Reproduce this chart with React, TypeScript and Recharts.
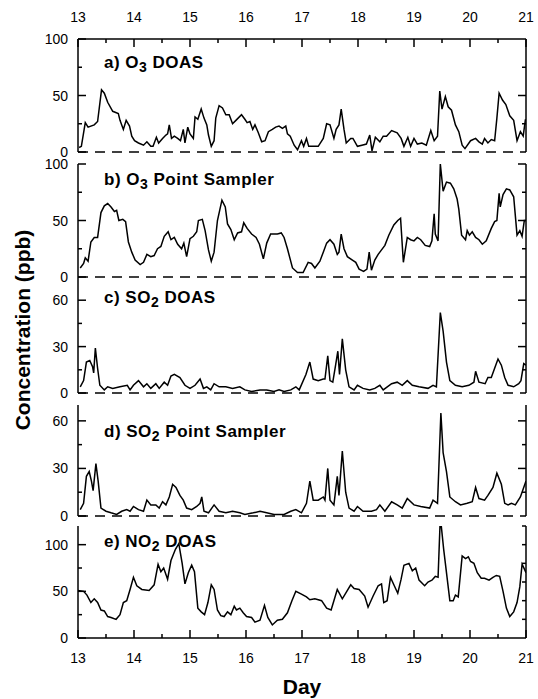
import { LineChart, Line, XAxis, YAxis, ReferenceLine } from 'recharts'

const W = 538
const H = 699
const PLOT_LEFT = 78
const PLOT_RIGHT = 526
const FONT = '"Liberation Sans", Arial, Helvetica, sans-serif'

const DAY_TICKS = [13, 13.5, 14, 14.5, 15, 15.5, 16, 16.5, 17, 17.5, 18, 18.5, 19, 19.5, 20, 20.5, 21]

// a) O3 DOAS
const O3_DOAS_DAY = [13.02, 13.06, 13.13, 13.18, 13.29, 13.35, 13.42, 13.47, 13.53, 13.62, 13.72, 13.75, 13.81, 13.86, 13.92, 13.96, 14.01, 14.08, 14.17, 14.23, 14.3, 14.34, 14.4, 14.44, 14.51, 14.57, 14.6, 14.63, 14.67, 14.72, 14.78, 14.83, 14.88, 14.91, 14.96, 15.0, 15.06, 15.09, 15.14, 15.2, 15.25, 15.3, 15.33, 15.38, 15.43, 15.46, 15.52, 15.58, 15.64, 15.7, 15.76, 15.82, 15.92, 15.98, 16.02, 16.07, 16.12, 16.16, 16.22, 16.28, 16.34, 16.4, 16.47, 16.53, 16.59, 16.65, 16.71, 16.74, 16.79, 16.86, 16.92, 16.99, 17.03, 17.08, 17.12, 17.2, 17.29, 17.38, 17.44, 17.5, 17.57, 17.61, 17.66, 17.7, 17.75, 17.79, 17.87, 17.91, 17.99, 18.07, 18.15, 18.21, 18.25, 18.31, 18.39, 18.45, 18.51, 18.6, 18.7, 18.77, 18.82, 18.89, 18.94, 19.0, 19.06, 19.14, 19.22, 19.3, 19.36, 19.42, 19.46, 19.5, 19.56, 19.61, 19.67, 19.74, 19.8, 19.86, 19.91, 20.01, 20.1, 20.16, 20.22, 20.26, 20.32, 20.38, 20.44, 20.48, 20.52, 20.58, 20.64, 20.71, 20.78, 20.84, 20.9, 20.95, 20.99]
const O3_DOAS_PPB = [4, 5, 26, 22, 24, 27, 55, 52, 44, 36, 34, 28, 20, 28, 23, 14, 10, 8, 6, 9, 5, 5, 13, 8, 12, 15, 16, 24, 12, 14, 12, 10, 20, 8, 22, 16, 12, 31, 29, 38, 30, 24, 15, 5, 10, 30, 41, 39, 33, 33, 25, 28, 33, 29, 26, 27, 20, 24, 17, 9, 10, 18, 20, 22, 23, 21, 23, 16, 14, 6, 2, 10, 5, 12, 5, 5, 5, 12, 25, 24, 12, 20, 24, 38, 20, 8, 12, 12, 5, 6, 7, 15, 1, 13, 9, 14, 14, 19, 17, 12, 5, 13, 5, 12, 7, 8, 6, 19, 10, 14, 54, 38, 49, 40, 37, 24, 18, 6, 3, 10, 12, 9, 7, 12, 8, 11, 10, 30, 52, 46, 42, 32, 28, 10, 18, 14, 29]

// b) O3 Point Sampler
const O3_PS_DAY = [13.04, 13.1, 13.13, 13.18, 13.23, 13.29, 13.35, 13.41, 13.47, 13.53, 13.59, 13.65, 13.69, 13.73, 13.8, 13.85, 13.9, 13.96, 14.02, 14.11, 14.17, 14.23, 14.3, 14.36, 14.42, 14.48, 14.54, 14.61, 14.66, 14.72, 14.78, 14.85, 14.89, 14.94, 15.0, 15.06, 15.12, 15.15, 15.22, 15.27, 15.33, 15.38, 15.43, 15.49, 15.57, 15.63, 15.67, 15.73, 15.79, 15.85, 15.92, 15.96, 16.02, 16.1, 16.18, 16.24, 16.31, 16.37, 16.44, 16.5, 16.56, 16.63, 16.68, 16.74, 16.83, 16.92, 17.02, 17.11, 17.17, 17.23, 17.32, 17.38, 17.44, 17.5, 17.57, 17.63, 17.66, 17.7, 17.75, 17.81, 17.9, 17.96, 18.02, 18.1, 18.16, 18.2, 18.24, 18.3, 18.36, 18.42, 18.48, 18.55, 18.64, 18.71, 18.76, 18.81, 18.88, 18.94, 19.0, 19.06, 19.12, 19.2, 19.28, 19.32, 19.36, 19.38, 19.43, 19.47, 19.52, 19.58, 19.65, 19.71, 19.77, 19.8, 19.85, 19.92, 19.95, 19.99, 20.04, 20.1, 20.16, 20.22, 20.29, 20.38, 20.44, 20.48, 20.52, 20.54, 20.59, 20.65, 20.71, 20.78, 20.84, 20.89, 20.93, 20.97, 21.0]
const O3_PS_PPB = [8, 12, 17, 14, 31, 35, 35, 57, 63, 65, 62, 58, 59, 50, 51, 49, 31, 22, 15, 11, 13, 20, 18, 19, 25, 27, 36, 40, 33, 35, 29, 25, 30, 18, 34, 36, 40, 50, 51, 41, 24, 14, 22, 50, 68, 62, 47, 42, 33, 39, 40, 48, 43, 38, 35, 29, 16, 30, 38, 38, 38, 39, 35, 25, 8, 4, 4, 13, 12, 8, 14, 22, 30, 33, 29, 20, 22, 38, 25, 18, 15, 13, 7, 5, 7, 22, 6, 15, 20, 24, 28, 37, 46, 50, 52, 13, 35, 33, 32, 35, 33, 28, 27, 32, 56, 38, 32, 100, 76, 84, 83, 78, 69, 60, 37, 33, 41, 37, 40, 35, 33, 29, 32, 43, 49, 50, 74, 62, 73, 78, 77, 71, 37, 41, 36, 50, 50]

// c) SO2 DOAS
const SO2_DOAS_DAY = [13.04, 13.1, 13.15, 13.21, 13.26, 13.28, 13.31, 13.35, 13.39, 13.47, 13.53, 13.62, 13.75, 13.88, 13.93, 13.99, 14.08, 14.17, 14.23, 14.3, 14.39, 14.45, 14.54, 14.6, 14.66, 14.72, 14.82, 14.91, 15.0, 15.09, 15.18, 15.24, 15.3, 15.37, 15.43, 15.52, 15.64, 15.76, 15.89, 15.98, 16.1, 16.25, 16.37, 16.5, 16.59, 16.68, 16.8, 16.89, 16.95, 17.07, 17.14, 17.2, 17.29, 17.38, 17.41, 17.46, 17.5, 17.55, 17.6, 17.64, 17.67, 17.72, 17.78, 17.84, 17.93, 17.99, 18.09, 18.21, 18.3, 18.39, 18.45, 18.6, 18.7, 18.79, 18.88, 18.97, 19.09, 19.25, 19.34, 19.4, 19.47, 19.52, 19.58, 19.64, 19.74, 19.86, 19.98, 20.07, 20.1, 20.16, 20.27, 20.32, 20.38, 20.44, 20.5, 20.56, 20.62, 20.68, 20.78, 20.87, 20.91, 20.96, 21.0]
const SO2_DOAS_PPB = [4, 8, 20, 21, 17, 13, 29, 16, 5, 2, 4, 3, 4, 5, 2, 5, 8, 4, 6, 3, 6, 3, 7, 5, 11, 12, 10, 5, 3, 5, 9, 3, 4, 2, 6, 4, 4, 3, 4, 2, 1, 2, 2, 1, 2, 1, 2, 4, 2, 12, 20, 9, 8, 9, 9, 24, 8, 7, 18, 27, 12, 35, 15, 4, 2, 5, 3, 2, 3, 5, 2, 6, 7, 5, 8, 5, 4, 3, 5, 4, 52, 40, 20, 8, 5, 4, 5, 7, 14, 7, 6, 10, 10, 16, 22, 18, 10, 5, 4, 6, 8, 19, 18]

// d) SO2 Point Sampler
const SO2_PS_DAY = [13.04, 13.1, 13.15, 13.2, 13.24, 13.27, 13.32, 13.36, 13.41, 13.5, 13.59, 13.69, 13.78, 13.87, 13.93, 13.99, 14.08, 14.17, 14.23, 14.3, 14.39, 14.45, 14.51, 14.57, 14.63, 14.69, 14.75, 14.82, 14.88, 14.94, 15.03, 15.12, 15.18, 15.21, 15.25, 15.33, 15.43, 15.52, 15.64, 15.76, 15.89, 15.98, 16.13, 16.25, 16.37, 16.5, 16.68, 16.8, 16.89, 16.99, 17.08, 17.14, 17.2, 17.29, 17.38, 17.41, 17.46, 17.5, 17.57, 17.63, 17.66, 17.72, 17.78, 17.84, 17.93, 17.99, 18.09, 18.24, 18.33, 18.39, 18.48, 18.6, 18.7, 18.79, 18.88, 19.0, 19.12, 19.28, 19.34, 19.42, 19.48, 19.52, 19.58, 19.64, 19.74, 19.83, 19.95, 20.04, 20.1, 20.16, 20.26, 20.32, 20.41, 20.48, 20.56, 20.62, 20.68, 20.74, 20.81, 20.9, 21.0]
const SO2_PS_PPB = [4, 8, 25, 28, 22, 16, 33, 22, 5, 3, 2, 1, 3, 4, 3, 6, 4, 3, 10, 7, 7, 5, 9, 7, 12, 20, 18, 13, 10, 5, 4, 6, 8, 12, 3, 2, 7, 3, 2, 3, 2, 1, 2, 3, 2, 1, 1, 3, 4, 2, 8, 22, 10, 10, 12, 10, 30, 10, 7, 25, 13, 41, 15, 5, 3, 6, 3, 3, 4, 7, 3, 9, 7, 5, 11, 7, 6, 5, 10, 8, 65, 40, 28, 12, 9, 7, 8, 9, 18, 11, 10, 13, 18, 27, 20, 8, 7, 8, 7, 12, 22]

// e) NO2 DOAS
const NO2_DOAS_DAY = [13.0, 13.1, 13.16, 13.23, 13.29, 13.35, 13.41, 13.47, 13.53, 13.59, 13.68, 13.75, 13.81, 13.87, 13.93, 13.99, 14.05, 14.14, 14.27, 14.36, 14.43, 14.48, 14.53, 14.6, 14.66, 14.74, 14.8, 14.86, 14.91, 14.97, 15.03, 15.08, 15.14, 15.2, 15.26, 15.32, 15.38, 15.43, 15.49, 15.55, 15.61, 15.67, 15.73, 15.79, 15.83, 15.89, 15.95, 16.01, 16.1, 16.16, 16.25, 16.33, 16.39, 16.47, 16.56, 16.65, 16.74, 16.82, 16.89, 16.99, 17.08, 17.14, 17.23, 17.35, 17.44, 17.52, 17.63, 17.72, 17.8, 17.87, 17.93, 18.02, 18.12, 18.18, 18.27, 18.36, 18.42, 18.46, 18.52, 18.58, 18.64, 18.71, 18.77, 18.82, 18.91, 18.97, 19.03, 19.09, 19.19, 19.25, 19.32, 19.38, 19.43, 19.47, 19.53, 19.58, 19.64, 19.7, 19.74, 19.79, 19.86, 19.92, 19.97, 20.01, 20.07, 20.13, 20.2, 20.26, 20.34, 20.41, 20.47, 20.53, 20.59, 20.65, 20.71, 20.78, 20.84, 20.89, 20.93, 20.97, 21.0]
const NO2_DOAS_PPB = [51, 50, 46, 38, 42, 38, 30, 29, 23, 22, 20, 25, 38, 40, 52, 65, 56, 52, 51, 57, 79, 71, 75, 63, 83, 95, 101, 80, 58, 70, 78, 71, 32, 28, 25, 38, 57, 52, 30, 24, 23, 28, 25, 34, 30, 32, 27, 23, 22, 17, 19, 35, 22, 14, 19, 20, 27, 40, 50, 47, 44, 41, 42, 40, 32, 30, 52, 42, 50, 57, 53, 52, 45, 33, 45, 56, 58, 38, 40, 65, 57, 48, 63, 78, 80, 72, 75, 62, 56, 60, 62, 66, 65, 130, 95, 70, 40, 40, 46, 44, 88, 85, 87, 82, 80, 70, 64, 64, 62, 65, 67, 66, 50, 32, 23, 28, 38, 55, 79, 74, 70]

const toRows = (days: number[], ppb: number[]) => days.map((d, i) => ({ day: d, ppb: ppb[i] }))

const LINE_W = 1.5
const TICK_FONT = 14

const LeftTick = ({ x, y, payload, major }: any) => {
  const isMajor = payload.value % major === 0
  return (
    <g>
      <line x1={x} x2={x + (isMajor ? 8 : 4)} y1={y} y2={y} stroke="#000" strokeWidth={LINE_W} />
      {isMajor && (
        <text x={x - 10} y={y} dy={5} textAnchor="end" fontSize={TICK_FONT} fill="#000" fontFamily={FONT}>
          {payload.value}
        </text>
      )}
    </g>
  )
}

const RightTick = ({ x, y, payload, major }: any) => {
  const isMajor = payload.value % major === 0
  return <line x1={x} x2={x - (isMajor ? 8 : 4)} y1={y} y2={y} stroke="#000" strokeWidth={LINE_W} />
}

const DayTick = ({ x, y, payload, side }: any) => {
  const isMajor = Number.isInteger(payload.value)
  const len = isMajor ? 8 : 4
  const dir = side === 'top' ? 1 : -1
  return (
    <g>
      <line x1={x} x2={x} y1={y} y2={y + dir * len} stroke="#000" strokeWidth={LINE_W} />
      {isMajor && (
        <text x={x} y={side === 'top' ? y - 17 : y + 25} textAnchor="middle" fontSize={TICK_FONT} fill="#000" fontFamily={FONT}>
          {payload.value}
        </text>
      )}
    </g>
  )
}

interface PanelProps {
  days: number[]
  ppb: number[]
  top: number
  bottom: number
  max: number
  ticks: number[]
  major: number
  rightTicks: number[]
  rightMajor: number
  axis?: 'top' | 'bottom'
}

function Panel({ days, ppb, top, bottom, max, ticks, major, rightTicks, rightMajor, axis }: PanelProps) {
  const chartTop = axis === 'top' ? 0 : top - 8
  const chartBottom = axis === 'bottom' ? H : bottom + 8
  const margin = { top: axis === 'top' ? 0 : 8, bottom: axis === 'bottom' ? 0 : 8, left: 0, right: 0 }
  const axisStyle = { stroke: '#000', strokeWidth: LINE_W }
  return (
    <div style={{ position: 'absolute', left: 0, top: chartTop }}>
      <LineChart width={W} height={chartBottom - chartTop} data={toRows(days, ppb)} margin={margin}>
        <XAxis
          dataKey="day"
          type="number"
          domain={[13, 21]}
          allowDataOverflow
          ticks={DAY_TICKS}
          interval={0}
          hide={!axis}
          orientation={axis ?? 'bottom'}
          height={axis === 'top' ? top : axis === 'bottom' ? H - bottom : 0}
          axisLine={axisStyle}
          tickLine={false}
          tickSize={0}
          tickMargin={0}
          tick={(p: any) => <DayTick {...p} side={axis} />}
        />
        <YAxis
          yAxisId="l"
          orientation="left"
          width={PLOT_LEFT}
          type="number"
          domain={[0, max]}
          allowDataOverflow
          ticks={ticks}
          interval={0}
          axisLine={axisStyle}
          tickLine={false}
          tickSize={0}
          tickMargin={0}
          tick={(p: any) => <LeftTick {...p} major={major} />}
        />
        <YAxis
          yAxisId="r"
          orientation="right"
          width={W - PLOT_RIGHT}
          type="number"
          domain={[0, max]}
          allowDataOverflow
          ticks={rightTicks}
          interval={0}
          axisLine={axisStyle}
          tickLine={false}
          tickSize={0}
          tickMargin={0}
          tick={(p: any) => <RightTick {...p} major={rightMajor} />}
        />
        {axis !== 'bottom' && (
          <ReferenceLine yAxisId="l" y={0} stroke="#000" strokeWidth={1.5} strokeDasharray="10 7" />
        )}
        <Line
          yAxisId="l"
          type="linear"
          dataKey="ppb"
          stroke="#000"
          strokeWidth={LINE_W}
          dot={false}
          activeDot={false}
          isAnimationActive={false}
        />
      </LineChart>
    </div>
  )
}

const Sub = ({ children }: { children: string }) => (
  <tspan dy={4} fontSize={14}>{children}</tspan>
)

export default function App() {
  return (
    <div style={{ position: 'absolute', left: 0, top: 0, width: W, height: H, background: '#fff', fontFamily: FONT }}>
      <Panel days={O3_DOAS_DAY} ppb={O3_DOAS_PPB} top={39} bottom={152} max={100}
        ticks={[0, 25, 50, 75, 100]} major={50} rightTicks={[25, 50, 75]} rightMajor={50} axis="top" />
      <Panel days={O3_PS_DAY} ppb={O3_PS_PPB} top={164} bottom={277} max={100}
        ticks={[0, 25, 50, 75, 100]} major={50} rightTicks={[25, 50, 75, 100]} rightMajor={50} />
      <Panel days={SO2_DOAS_DAY} ppb={SO2_DOAS_PPB} top={277} bottom={393} max={75}
        ticks={[0, 15, 30, 45, 60]} major={30} rightTicks={[15, 30, 45, 60]} rightMajor={30} />
      <Panel days={SO2_PS_DAY} ppb={SO2_PS_PPB} top={405} bottom={516} max={70}
        ticks={[0, 15, 30, 45, 60]} major={30} rightTicks={[15, 30, 45, 60]} rightMajor={30} />
      <Panel days={NO2_DOAS_DAY} ppb={NO2_DOAS_PPB} top={526} bottom={638} max={120}
        ticks={[0, 25, 50, 75, 100]} major={50} rightTicks={[20, 40, 60, 80, 100, 120]} rightMajor={1000} axis="bottom" />

      <svg width={W} height={H} style={{ position: 'absolute', left: 0, top: 0, pointerEvents: 'none' }}>
        <g fontFamily={FONT} fontWeight="bold" fontSize={17} letterSpacing={0.5} fill="#000">
          <text x={104} y={68}>a) O<Sub>3</Sub><tspan dy={-4}> DOAS</tspan></text>
          <text x={104} y={185}>b) O<Sub>3</Sub><tspan dy={-4}> Point Sampler</tspan></text>
          <text x={104} y={303}>c) SO<Sub>2</Sub><tspan dy={-4}> DOAS</tspan></text>
          <text x={104} y={437}>d) SO<Sub>2</Sub><tspan dy={-4}> Point Sampler</tspan></text>
          <text x={104} y={547}>e) NO<Sub>2</Sub><tspan dy={-4}> DOAS</tspan></text>
        </g>
        <text transform="translate(30,330) rotate(-90)" textAnchor="middle" fontFamily={FONT} fontWeight="bold" fontSize={21} fill="#000">
          Concentration (ppb)
        </text>
        <text x={302} y={694} textAnchor="middle" fontFamily={FONT} fontWeight="bold" fontSize={21} fill="#000">
          Day
        </text>
      </svg>
    </div>
  )
}
